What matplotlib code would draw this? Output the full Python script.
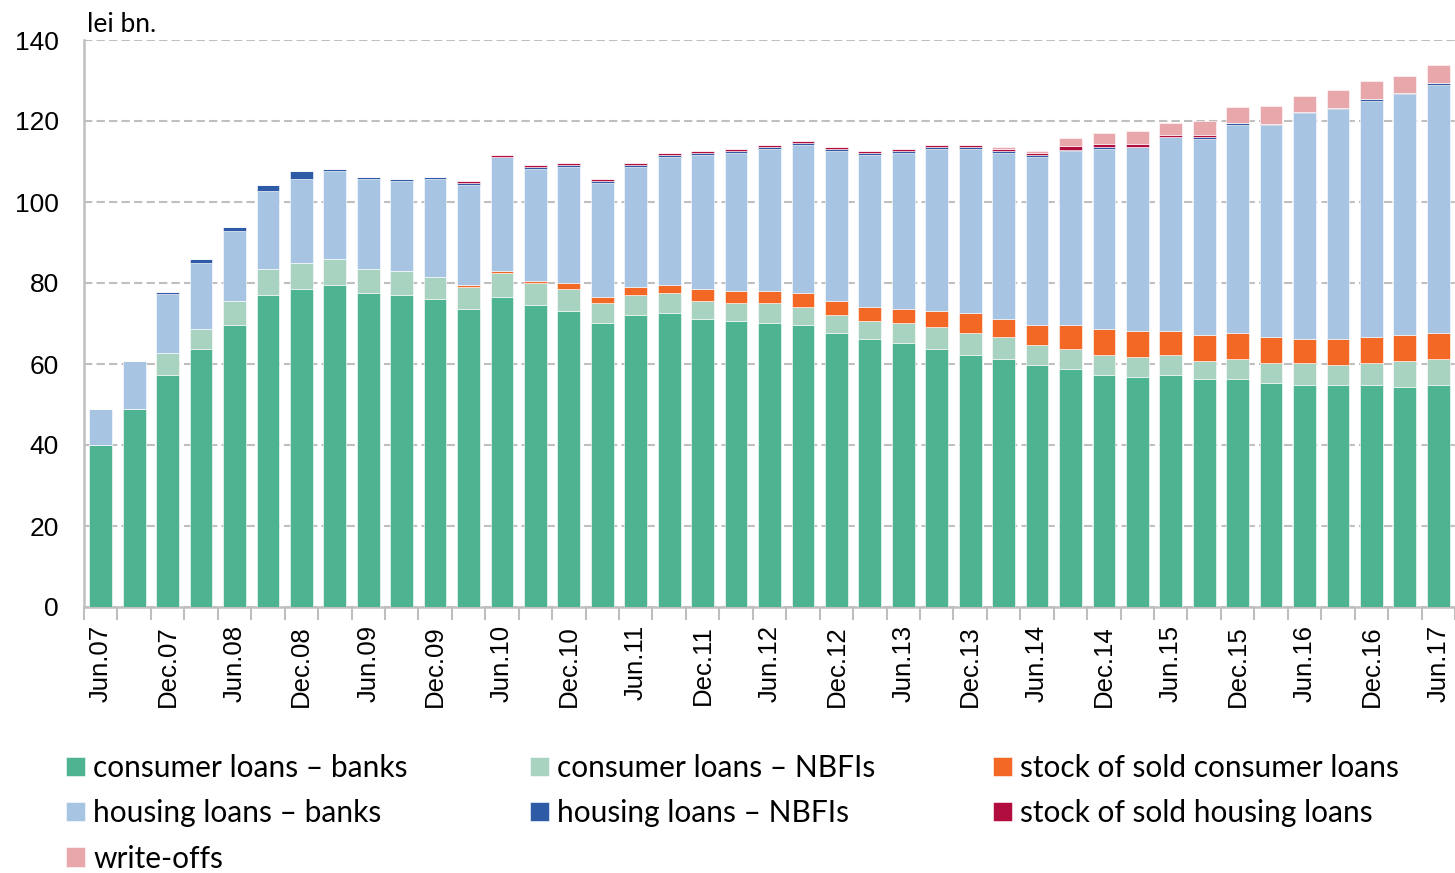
import matplotlib
matplotlib.use("Agg")
import matplotlib.pyplot as plt
from matplotlib.ticker import FixedLocator, MultipleLocator
import numpy as np

# Quarterly periods, Jun.2007 - Jun.2017
quarters = []
for yr in range(7, 18):
    for m in ["Mar", "Jun", "Sep", "Dec"]:
        quarters.append(f"{m}.{yr:02d}")
quarters = quarters[1:-2]  # Jun.07 ... Jun.17

# lei bn.
consumer_banks = [40.0, 48.8, 57.3, 63.7, 69.6, 77.0, 78.5, 79.5, 77.5, 77.0,
                  76.0, 73.6, 76.5, 74.6, 73.1, 70.1, 72.1, 72.6, 71.1, 70.6,
                  70.1, 69.6, 67.7, 66.2, 65.2, 63.7, 62.2, 61.2, 59.8, 58.8,
                  57.3, 56.8, 57.3, 56.3, 56.3, 55.3, 54.8, 54.8, 54.8, 54.3,
                  54.8]
consumer_nbfi = [0.0, 0.0, 5.4, 4.9, 6.0, 6.5, 6.4, 6.4, 6.0, 6.0,
                 5.5, 5.4, 6.0, 5.4, 5.4, 5.0, 4.9, 4.9, 4.5, 4.5,
                 5.0, 4.5, 4.4, 4.4, 4.9, 5.4, 5.5, 5.5, 4.9, 4.9,
                 4.9, 4.9, 4.9, 4.4, 4.9, 4.9, 5.4, 5.0, 5.4, 6.4,
                 6.4]
sold_consumer = [0.0, 0.0, 0.0, 0.0, 0.0, 0.0, 0.0, 0.0, 0.0, 0.0,
                 0.0, 0.5, 0.5, 0.5, 1.5, 1.4, 2.0, 2.0, 2.9, 2.9,
                 2.9, 3.4, 3.5, 3.5, 3.5, 4.0, 4.9, 4.4, 4.9, 5.9,
                 6.4, 6.4, 5.9, 6.5, 6.5, 6.5, 6.0, 6.4, 6.5, 6.5,
                 6.5]
housing_banks = [8.9, 11.9, 14.5, 16.3, 17.2, 19.2, 20.8, 21.8, 22.2, 22.2,
                 24.2, 24.7, 28.1, 27.6, 28.6, 28.2, 29.6, 31.6, 33.1, 34.1,
                 35.1, 36.6, 37.0, 37.5, 38.5, 40.0, 40.5, 41.0, 41.5, 43.0,
                 44.5, 45.5, 47.9, 48.4, 51.3, 52.3, 55.8, 56.8, 58.2, 59.5,
                 61.2]
housing_nbfi = [0.0, 0.0, 0.5, 1.0, 1.0, 1.5, 2.0, 0.4, 0.5, 0.5,
                0.5, 0.5, 0.1, 0.5, 0.5, 0.5, 0.5, 0.5, 0.5, 0.5,
                0.5, 0.5, 0.5, 0.5, 0.5, 0.5, 0.5, 0.5, 0.5, 0.2,
                0.6, 0.1, 0.0, 0.5, 0.5, 0.2, 0.2, 0.2, 0.5, 0.2,
                0.5]
sold_housing = [0.0, 0.0, 0.0, 0.0, 0.0, 0.0, 0.0, 0.0, 0.0, 0.0,
                0.0, 0.5, 0.5, 0.5, 0.5, 0.5, 0.5, 0.5, 0.5, 0.5,
                0.5, 0.5, 0.5, 0.5, 0.5, 0.5, 0.5, 0.5, 0.5, 1.0,
                0.5, 0.5, 0.5, 0.5, 0.0, 0.0, 0.0, 0.0, 0.0, 0.0,
                0.0]
write_offs = [0.0, 0.0, 0.0, 0.0, 0.0, 0.0, 0.0, 0.0, 0.0, 0.0,
              0.0, 0.0, 0.0, 0.0, 0.0, 0.0, 0.0, 0.0, 0.0, 0.0,
              0.0, 0.0, 0.0, 0.0, 0.0, 0.0, 0.0, 0.5, 0.5, 2.0,
              2.9, 3.4, 3.0, 3.5, 4.0, 4.5, 3.9, 4.4, 4.5, 4.2,
              4.4]

series_labels = ["consumer loans \u2013 banks", "consumer loans \u2013 NBFIs",
                 "stock of sold consumer loans", "housing loans \u2013 banks",
                 "housing loans \u2013 NBFIs", "stock of sold housing loans",
                 "write-offs"]
series_values = [consumer_banks, consumer_nbfi, sold_consumer, housing_banks,
                 housing_nbfi, sold_housing, write_offs]
series_colors = ["#4DB391", "#A7D3C0", "#F26824", "#A7C4E2",
                 "#2E5BA6", "#B10E3F", "#E8A8AB"]

humanist = ["Lato", "DejaVu Sans"]
plain = ["Liberation Sans", "DejaVu Sans"]

fig = plt.figure(figsize=(14.55, 8.73), dpi=100)
ax = fig.add_axes([84 / 1455, 1 - 607 / 873, 1 - 84 / 1455, (607 - 40) / 873])

x = np.arange(len(quarters))
bottom = np.zeros(len(quarters))
handles = []
for vals, lab, col in zip(series_values, series_labels, series_colors):
    v = np.asarray(vals)
    h = ax.bar(x, v, width=0.68, bottom=bottom, color=col, label=lab,
               edgecolor="white", linewidth=0.4, zorder=3)
    handles.append(h)
    bottom += v

ax.set_xlim(-0.5, len(quarters) - 0.5)
ax.set_ylim(0, 140)
ax.yaxis.set_major_locator(MultipleLocator(20))
ax.grid(axis="y", color="#BFBFBF", linestyle=(0, (4, 2)), linewidth=1.5, zorder=0)
for s in ["top", "right"]:
    ax.spines[s].set_visible(False)
for s in ["left", "bottom"]:
    ax.spines[s].set_color("#BFBFBF")
    ax.spines[s].set_linewidth(1.8)

ax.tick_params(axis="y", length=0, pad=18, labelsize=19)
for t in ax.get_yticklabels():
    t.set_family(plain)

ax.set_xticks(x[::2])
ax.set_xticklabels(quarters[::2], rotation=90, fontsize=18.5, family=plain)
ax.tick_params(axis="x", which="major", length=0, pad=13)
ax.xaxis.set_minor_locator(FixedLocator(np.arange(-0.5, len(quarters), 1.0)))
ax.tick_params(axis="x", which="minor", length=9, width=1.5, color="#BFBFBF")

fig.text(87 / 1455, 1 - 25 / 873, "lei bn.", fontsize=19, family=humanist,
         va="center", ha="left")

# legend: three columns of entries
columns = [[0, 3, 6], [1, 4], [2, 5]]
col_x = [66, 530, 993]
for idx, cx in zip(columns, col_x):
    fig.legend([handles[i] for i in idx], [series_labels[i] for i in idx],
               loc="upper left", bbox_to_anchor=(cx / 1455, 1 - 754 / 873),
               frameon=False, prop={"family": humanist, "size": 21.5},
               handlelength=0.62, handleheight=0.62, handletextpad=0.3,
               labelspacing=0.58, borderpad=0, borderaxespad=0)

fig.savefig("out.png", dpi=100)
